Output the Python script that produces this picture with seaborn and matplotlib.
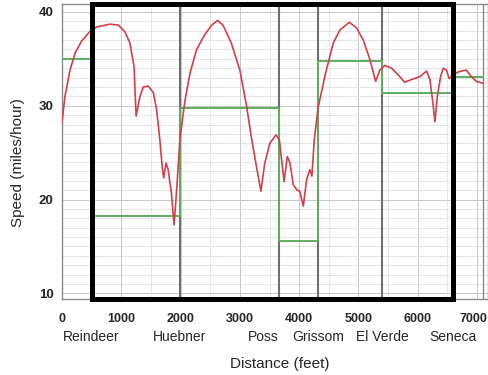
import matplotlib
matplotlib.use("Agg")
import matplotlib.pyplot as plt
from matplotlib.patches import Rectangle
from matplotlib.ticker import MultipleLocator
from matplotlib.transforms import ScaledTranslation
import pandas as pd
import seaborn as sns

# ──────────────────────────────────────────────
# Data
# ──────────────────────────────────────────────

distance_ft = [0, 50, 135, 220, 330, 470, 585, 810, 950, 1060,
               1145, 1215, 1250, 1315, 1370, 1455, 1540, 1595, 1650, 1690,
               1715, 1755, 1790, 1845, 1890, 1930, 1990, 2075, 2160, 2270,
               2410, 2525, 2625, 2715, 2855, 3000, 3115, 3200, 3280, 3355,
               3420, 3505, 3610, 3665, 3705, 3745, 3800, 3845, 3900, 3965,
               4010, 4070, 4125, 4180, 4215, 4255, 4320, 4435, 4575, 4690,
               4845, 4970, 5080, 5195, 5290, 5360, 5445, 5560, 5670, 5780,
               5895, 6035, 6150, 6205, 6250, 6290, 6330, 6385, 6430, 6485,
               6530, 6600, 6680, 6740, 6820, 6905, 6990, 7100]
speed_mph = [28.2, 31.0, 33.8, 35.6, 36.9, 37.9, 38.4, 38.7, 38.6, 37.9,
             36.7, 34.2, 28.9, 31.0, 32.0, 32.1, 31.4, 29.6, 26.4, 23.5,
             22.3, 23.9, 23.2, 20.7, 17.3, 20.7, 26.5, 30.6, 33.5, 36.0,
             37.6, 38.6, 39.1, 38.6, 36.7, 33.8, 29.9, 26.4, 23.5, 20.9,
             23.9, 26.0, 26.9, 26.4, 24.2, 21.9, 24.6, 23.9, 21.6, 21.0,
             20.9, 19.3, 22.1, 23.2, 22.5, 26.4, 29.8, 33.2, 36.7, 38.1,
             38.9, 38.3, 37.0, 34.9, 32.6, 33.8, 34.3, 34.0, 33.3, 32.5,
             32.8, 33.1, 33.7, 32.8, 30.6, 28.3, 31.0, 33.1, 34.0, 33.8,
             32.9, 33.3, 33.6, 33.7, 33.8, 33.1, 32.6, 32.4]

# speed limit steps (start of each zone)
limit_start_ft = [0, 500, 1990, 3660, 4320, 5400, 6600, 7100]
limit_mph = [35.0, 18.2, 29.8, 15.6, 34.8, 31.4, 33.1, 33.1]

stations = ["Reindeer", "Huebner", "Poss", "Grissom", "El Verde", "Seneca"]
station_ft = [500, 1990, 3660, 4320, 5400, 6600]

x_ticks = [0, 1000, 2000, 3000, 4000, 5000, 6000, 7000]
y_ticks = [10, 20, 30, 40]

assert len(distance_ft) == len(speed_mph)

speed_df = pd.DataFrame({"Distance": distance_ft, "Speed": speed_mph})
limit_df = pd.DataFrame({"Distance": limit_start_ft, "Limit": limit_mph})

# ──────────────────────────────────────────────
# Plot
# ──────────────────────────────────────────────

sns.set_theme(style="white")
plt.rcParams["font.family"] = ["Liberation Sans", "DejaVu Sans"]

fig = plt.figure(figsize=(4.89, 3.75), dpi=100)
ax = fig.add_axes([62 / 489, 1 - 299 / 375, 426 / 489, 295 / 375])

ax.set_xlim(0, 7185)
ax.set_ylim(9.4, 40.85)

# fine grid
ax.xaxis.set_minor_locator(MultipleLocator(500))
ax.yaxis.set_minor_locator(MultipleLocator(1))
ax.grid(which="major", color="#c8c8c8", lw=0.7)
ax.grid(which="minor", color="#d4d4d4", lw=0.6, ls=(0, (2, 1)))
ax.set_axisbelow(True)

# station markers
for pos in station_ft[1:-1]:
    ax.axvline(pos, color="#6e6e6e", lw=1.5, zorder=2)
ax.axvline(limit_start_ft[-1], color="#8a8a8a", lw=1.0, zorder=2)

sns.lineplot(data=limit_df, x="Distance", y="Limit", drawstyle="steps-post",
             color="#5fae5f", lw=1.4, ax=ax, zorder=3)
sns.lineplot(data=speed_df, x="Distance", y="Speed",
             color="#d2404c", lw=1.2, ax=ax, zorder=4)

# thick box between first and last station
box = Rectangle((station_ft[0], 0), station_ft[-1] - station_ft[0], 1,
                transform=ax.get_xaxis_transform(), fill=False,
                ec="black", lw=3.6, zorder=6, clip_on=False)
ax.add_patch(box)

for side in ax.spines.values():
    side.set_color("#8a8a8a")
    side.set_linewidth(1.0)

ax.set_xticks(x_ticks)
ax.set_yticks(y_ticks)
ax.tick_params(axis="both", which="both", length=0)
ax.tick_params(axis="x", pad=10, labelsize=9)
ax.tick_params(axis="y", pad=6, labelsize=9.5)
for lbl in ax.get_xticklabels() + ax.get_yticklabels():
    lbl.set_fontweight("bold")

# keep the last distance label inside the figure edge
last = ax.get_xticklabels()[-1]
last.set_horizontalalignment("right")
last.set_transform(last.get_transform() + ScaledTranslation(10 / 100, 0, fig.dpi_scale_trans))

sec = ax.secondary_xaxis("bottom")
sec.set_xticks(station_ft, labels=stations)
sec.tick_params(length=0, pad=22, labelsize=10)
sec.spines["bottom"].set_visible(False)
sec.get_xticklabels()[2].set_horizontalalignment("right")

ax.set_xlabel("Distance (feet)", fontsize=11)
ax.set_ylabel("Speed (miles/hour)", fontsize=11)
ax.xaxis.set_label_coords(0.512, -0.195)
ax.yaxis.set_label_coords(-0.087, 0.464)

fig.savefig("out.png", dpi=100, facecolor="white")
